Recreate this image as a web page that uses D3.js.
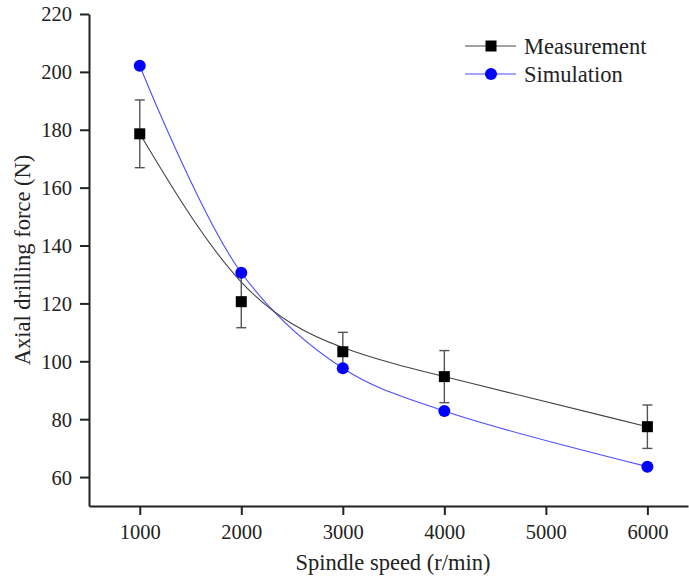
<!DOCTYPE html>
<html><head><meta charset="utf-8">
<script src="https://cdn.jsdelivr.net/npm/d3@7"></script>
<style>body{margin:0;background:#fff}svg{display:block}
svg text{font-family:"Liberation Serif","Times New Roman",Tinos,"DejaVu Serif",serif !important;}
</style>
</head><body>
<script>
const speeds = [1000, 2000, 3000, 4000, 6000];
const measurement = [178.6, 120.6, 103.3, 94.7, 77.4];
const measurementErr = [11.7, 9.0, 6.7, 9.0, 7.5];
const simulation = [202.1, 130.6, 97.6, 82.8, 63.6];
const xTicks = [1000, 2000, 3000, 4000, 5000, 6000];
const yTicks = [60, 80, 100, 120, 140, 160, 180, 200, 220];

const W = 689, H = 579;
const svg = d3.select("body").append("svg").attr("width", W).attr("height", H);
const x = d3.scaleLinear().domain([500, 6400]).range([89, 688]);
const y = d3.scaleLinear().domain([50, 220]).range([506, 14]);

const xa = svg.append("g").attr("transform", "translate(0,506)")
  .call(d3.axisBottom(x).tickValues(xTicks).tickFormat(d3.format("d")).tickSize(9).tickSizeOuter(0));
const ya = svg.append("g").attr("transform", "translate(89,0)")
  .call(d3.axisLeft(y).tickValues(yTicks).tickFormat(d3.format("d")).tickSize(9).tickSizeOuter(0));
[xa, ya].forEach(a => {
  a.attr("font-family", null);
  a.select(".domain").attr("stroke", "#222").attr("stroke-width", 2);
  a.selectAll(".tick line").attr("stroke", "#222").attr("stroke-width", 2);
  a.selectAll(".tick text").attr("font-size", 20.5).attr("fill", "#222");
});
xa.selectAll(".tick text").attr("y", 33).attr("dy", 0);
ya.selectAll(".tick text").attr("x", -17).attr("dy", "0.34em");

svg.append("text").attr("x", 393).attr("y", 570).attr("text-anchor", "middle")
  .attr("font-size", 22.5).attr("fill", "#222").text("Spindle speed (r/min)");
svg.append("text").attr("transform", "translate(30,260) rotate(-90)").attr("text-anchor", "middle")
  .attr("font-size", 22.5).attr("fill", "#222").text("Axial drilling force (N)");

const mData = speeds.map((s, i) => ({x: s, y: measurement[i], e: measurementErr[i]}));
const sData = speeds.map((s, i) => ({x: s, y: simulation[i]}));

svg.append("path").datum(sData)
  .attr("d", d3.line().x(d => x(d.x)).y(d => y(d.y)).curve(d3.curveCatmullRom.alpha(0.5)))
  .attr("fill", "none").attr("stroke", "#4d4dff").attr("stroke-width", 1.1);
svg.append("path").datum(mData)
  .attr("d", d3.line().x(d => x(d.x)).y(d => y(d.y)).curve(d3.curveBasis))
  .attr("fill", "none").attr("stroke", "#444").attr("stroke-width", 1.1);

const eb = svg.append("g").attr("stroke", "#555").attr("stroke-width", 1.4);
mData.forEach(d => {
  eb.append("line").attr("x1", x(d.x)).attr("x2", x(d.x)).attr("y1", y(d.y + d.e)).attr("y2", y(d.y - d.e));
  [d.y + d.e, d.y - d.e].forEach(v => eb.append("line")
    .attr("x1", x(d.x) - 5).attr("x2", x(d.x) + 5).attr("y1", y(v)).attr("y2", y(v)));
});

svg.append("g").selectAll("rect").data(mData).join("rect")
  .attr("x", d => x(d.x) - 5.5).attr("y", d => y(d.y) - 5.5).attr("width", 11).attr("height", 11)
  .attr("fill", "#000");
svg.append("g").selectAll("circle").data(sData).join("circle")
  .attr("cx", d => x(d.x)).attr("cy", d => y(d.y)).attr("r", 6).attr("fill", "#0000ff");

const lg = svg.append("g");
const items = [{name: "Measurement", color: "#444", shape: "rect"}, {name: "Simulation", color: "#4d4dff", shape: "circle"}];
items.forEach((it, i) => {
  const cy = 46 + i * 28;
  lg.append("line").attr("x1", 465).attr("x2", 516).attr("y1", cy).attr("y2", cy)
    .attr("stroke", it.color).attr("stroke-width", 1.1);
  if (it.shape === "rect") lg.append("rect").attr("x", 485.5).attr("y", cy - 5.5).attr("width", 11).attr("height", 11).attr("fill", "#000");
  else lg.append("circle").attr("cx", 491).attr("cy", cy).attr("r", 6).attr("fill", "#0000ff");
  lg.append("text").attr("x", 524).attr("y", cy).attr("dy", "0.35em")
    .attr("font-size", 22.5).attr("fill", "#222").text(it.name);
});
</script>
</body></html>
